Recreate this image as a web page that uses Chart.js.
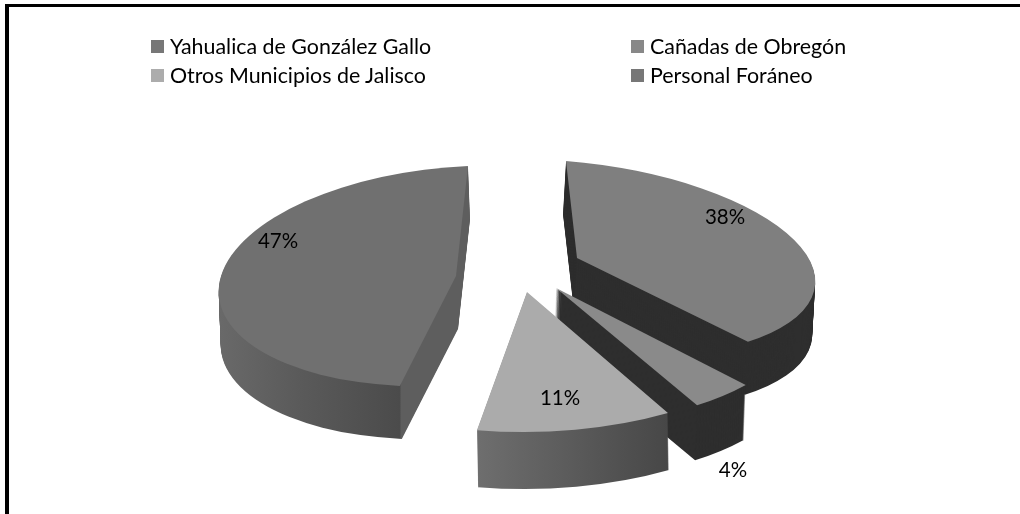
<!DOCTYPE html>
<html><head><meta charset="utf-8">
<style>
html,body{margin:0;padding:0;background:#fff;width:1020px;height:514px;overflow:hidden}
#wrap{position:relative;width:1020px;height:514px}
#c{position:absolute;left:0;top:0}
#frame{position:absolute;left:5px;top:4px;width:1015px;height:510px;border-left:4px solid #000;border-top:3px solid #000;box-sizing:border-box}
.lg{position:absolute;font:21.4px Lato,sans-serif;color:#000;white-space:nowrap;line-height:24px}
.lg i{position:absolute;left:-19px;top:6px;width:13px;height:13px}
</style></head><body><div id="wrap">
<canvas id="c" width="1020" height="514"></canvas><div id="frame"></div></div>
<script src="https://cdn.jsdelivr.net/npm/chart.js@4/dist/chart.umd.min.js"></script>
<script>
const categories = ["Cañadas de Obregón","Personal Foráneo","Otros Municipios de Jalisco","Yahualica de González Gallo"];
const shares = [38,4,11,47];
const topColors = ["#7f7f7f","#8a8a8a","#ababab","#707070"];
const legendNames = ["Yahualica de González Gallo","Cañadas de Obregón","Otros Municipios de Jalisco","Personal Foráneo"];
const legendColors = ["#777777","#888888","#acacac","#777777"];
const legendSpots = [[170,34],[650,34],[170,63],[650,63]];

// 3D look: per-slice apex + affine matrix [a,b,c,d] (unit circle -> screen), extrusion
const apex = [[577,258],[556,288],[527,292],[456,276]];
const matrix = [[238,11,19,97],[255,20.8,-2.2,135],[286,3.6,-3.3,140],[237,-12,-10,110]];
const extrude = [[-3,53],[-2,55],[1,57],[2,53]];
const sideStops = [
 [[0,'#2e2e2e'],[1,'#2e2e2e']],
 [[0,'#2e2e2e'],[1,'#2e2e2e']],
 [[478,'#6e6e6e'],[668,'#474747']],
 [[220,'#696969'],[300,'#5a5a5a'],[400,'#4b4b4b'],[401,'#5e5e5e'],[470,'#5e5e5e']]
];
const labelSpots = [[725,217],[733,470],[560,398],[278,241]];

const pie3d = {
  id:'pie3d',
  beforeDatasetDraw(chart,args){
    const ctx = chart.ctx, arcs = args.meta.data;
    arcs.forEach((arc,i)=>{
      const R = arc.outerRadius, [a,b,c,d] = matrix[i], [ax,ay] = apex[i], [ex,ey] = extrude[i];
      const m11=a/R,m12=b/R,m21=c/R,m22=d/R;
      const place=(ox,oy)=>{
        ctx.setTransform(m11,m21,m12,m22,
          ax+ox-(m11*arc.x+m12*arc.y), ay+oy-(m21*arc.x+m22*arc.y));
      };
      const stops = sideStops[i];
      const orig = arc.options;
      const x0=stops[0][0], x1=stops[stops.length-1][0]||1;
      const g2=m11*m11+m12*m12;
      ctx.save();
      for(let s=Math.ceil(Math.max(Math.abs(ex),ey));s>=1;s--){
        const f=s/Math.max(Math.abs(ex),ey), ox=ex*f, oy=ey*f;
        place(ox,oy);
        const span=stops[stops.length-1][0]-stops[0][0];
        let fill;
        if(span>1){
          const cx=ax+ox;
          const t0=(x0-cx)/g2, t1=(x1-cx)/g2;
          fill=ctx.createLinearGradient(arc.x+t0*m11,arc.y+t0*m12,arc.x+t1*m11,arc.y+t1*m12);
          stops.forEach(([p,col])=>fill.addColorStop((p-x0)/span,col));
        } else fill=stops[0][1];
        arc.options=Object.assign({},orig,{backgroundColor:fill,borderWidth:0});
        arc.draw(ctx);
      }
      arc.options=orig;
      place(0,0);
      arc.draw(ctx);
      ctx.restore();
    });
    return false;
  },
  afterDatasetsDraw(chart){
    const ctx=chart.ctx;
    ctx.save();
    ctx.setTransform(1,0,0,1,0,0);
    ctx.font='20.5px Lato, sans-serif';
    ctx.fillStyle='#000';
    ctx.textAlign='center';ctx.textBaseline='middle';
    shares.forEach((v,i)=>ctx.fillText(v+'%',labelSpots[i][0],labelSpots[i][1]));
    ctx.restore();
  }
};

new Chart(document.getElementById('c'),{
  type:'pie',
  data:{labels:categories,datasets:[{data:shares,backgroundColor:topColors,borderWidth:0}]},
  options:{responsive:false,animation:false,rotation:0,radius:100,
    plugins:{legend:{display:false},tooltip:{enabled:false}}},
  plugins:[pie3d]
});

const wrap=document.getElementById('wrap');
legendNames.forEach((n,i)=>{
  const d=document.createElement('div');d.className='lg';
  d.style.left=legendSpots[i][0]+'px';d.style.top=legendSpots[i][1]+'px';
  d.textContent=n;
  const b=document.createElement('i');b.style.background=legendColors[i];d.appendChild(b);
  wrap.appendChild(d);
});
</script></body></html>
